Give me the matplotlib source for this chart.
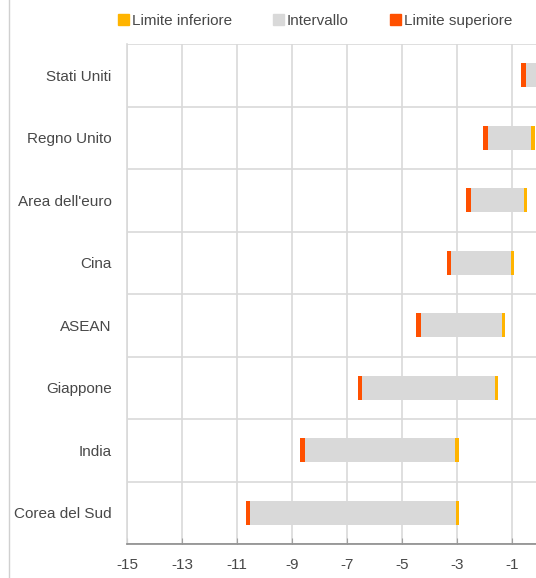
import numpy as np
import matplotlib
matplotlib.use("Agg")
import matplotlib.pyplot as plt
from matplotlib.patches import Patch
from matplotlib.lines import Line2D

plt.rcParams['font.family'] = ['Liberation Sans', 'DejaVu Sans']

# data
paesi = ['Stati Uniti', 'Regno Unito', "Area dell'euro", 'Cina',
         'ASEAN', 'Giappone', 'India', 'Corea del Sud']
lim_superiore = [-0.59, -1.98, -2.60, -3.30, -4.40, -6.54, -8.63, -10.60]
lim_inferiore = [-0.05, -0.25, -0.51, -0.99, -1.32, -1.58, -3.01, -3.00]
xticks = [-15, -13, -11, -9, -7, -5, -3, -1]

c_inf = '#FFB400'
c_int = '#D9D9D9'
c_sup = '#FF5000'
txt = '#484848'

fig = plt.figure(figsize=(5.36, 5.78), dpi=100)
ax = fig.add_axes([127/536, 1 - 544/578, 1 - 127/536, 500/578])

y = np.arange(len(paesi))
sup = np.array(lim_superiore)
inf = np.array(lim_inferiore)
h = 0.385
w_sup = 0.17
w_inf = 0.12

ax.barh(y, inf - sup, left=sup, height=h, color=c_int, zorder=3)
ax.barh(y, w_sup, left=sup - w_sup / 2, height=h, color=c_sup, zorder=4)
ax.barh(y, w_inf, left=inf - w_inf / 2, height=h, color=c_inf, zorder=4)

ax.set_xlim(-15, -0.14)
ax.set_ylim(len(paesi) - 0.5, -0.5)
ax.set_xticks(xticks)
ax.set_xticklabels([str(t) for t in xticks])
ax.set_yticks(y)
ax.set_yticklabels(paesi)
ax.set_yticks(np.arange(-0.5, len(paesi)), minor=True)

ax.grid(True, axis='x', which='major', color='#D9D9D9', lw=1.2, zorder=0)
ax.grid(True, axis='y', which='minor', color='#D9D9D9', lw=1.2, zorder=0)
ax.tick_params(axis='y', which='both', length=0, pad=11, labelsize=11, labelcolor=txt)
ax.tick_params(axis='x', direction='in', length=4, color='#A0A0A0', pad=10,
               labelsize=11, labelcolor=txt)

for s in ['top', 'right']:
    ax.spines[s].set_visible(False)
ax.spines['left'].set_color('#D9D9D9')
ax.spines['left'].set_linewidth(1.2)
ax.spines['bottom'].set_color('#8C8C8C')
ax.spines['bottom'].set_linewidth(1.2)

handles = [Patch(color=c_inf, label='Limite inferiore'),
           Patch(color=c_int, label='Intervallo'),
           Patch(color=c_sup, label='Limite superiore')]
fig.legend(handles=handles, loc='center', bbox_to_anchor=(315/536, 1 - 21/578),
           ncol=3, frameon=False, fontsize=11, labelcolor=txt,
           handlelength=0.7, handleheight=0.7, handletextpad=0.2,
           columnspacing=2.7, borderaxespad=0)

fig.add_artist(Line2D([9/536, 9/536], [0, 1], color='#D0D0D0', lw=1))

fig.savefig('out.png', dpi=100)
